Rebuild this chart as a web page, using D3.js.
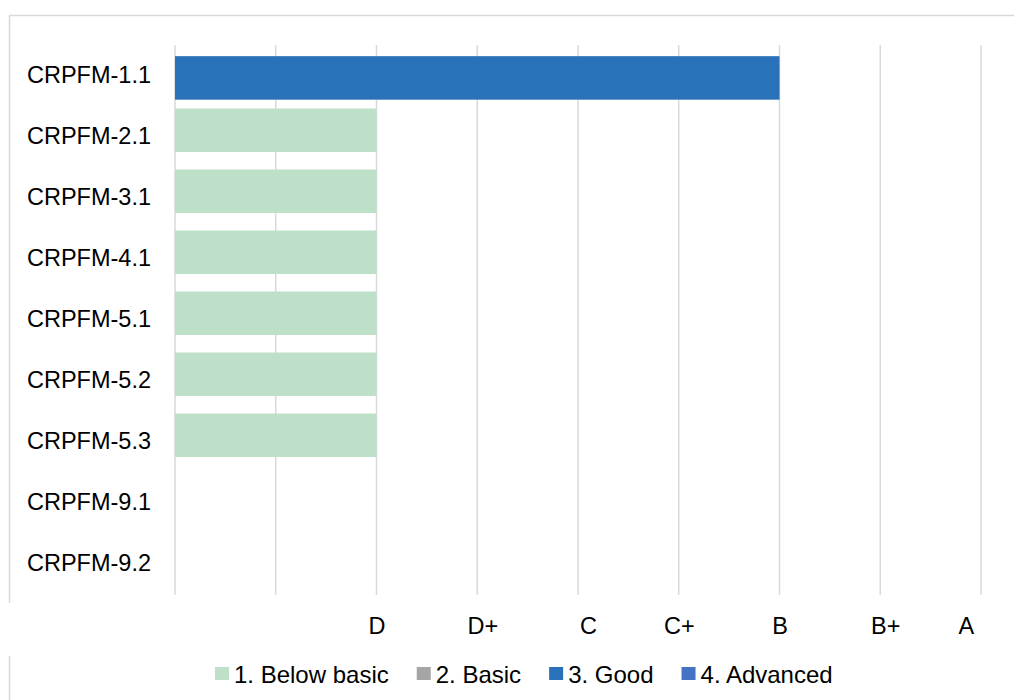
<!DOCTYPE html>
<html>
<head>
<meta charset="utf-8">
<script src="https://cdn.jsdelivr.net/npm/d3@7"></script>
<style>
  body { margin: 0; background: #fff; }
  svg text { font-family: "Liberation Sans", Arial, sans-serif; fill: #000; }
</style>
</head>
<body>
<svg id="chart" width="1014" height="700"></svg>
<script>
// data
var categories = ["CRPFM-1.1","CRPFM-2.1","CRPFM-3.1","CRPFM-4.1","CRPFM-5.1","CRPFM-5.2","CRPFM-5.3","CRPFM-9.1","CRPFM-9.2"];
var seriesNames = ["1. Below basic","2. Basic","3. Good","4. Advanced"];
var belowBasic = [0,2,2,2,2,2,2,0,0];
var basic      = [0,0,0,0,0,0,0,0,0];
var good       = [6,0,0,0,0,0,0,0,0];
var advanced   = [0,0,0,0,0,0,0,0,0];
var gradeLabels = ["D","D+","C","C+","B","B+","A"];
var gradeAt     = [2,3.05,4.1,5,6,7.05,7.85];

var colors = ["#bee0c9","#a5a5a5","#2971b8","#4472c4"];
var seriesValues = [belowBasic, basic, good, advanced];

var svg = d3.select("#chart");
var W = 1014, H = 700;

// outer frame
svg.append("rect")
    .attr("x", 9.5).attr("y", 15.5)
    .attr("width", W + 10).attr("height", H)
    .attr("fill", "#fff")
    .attr("stroke", "#d9d9d9")
    .attr("stroke-width", 1.5);

var x = d3.scaleLinear().domain([0, 8]).range([175, 981]);
var y = d3.scaleBand().domain(categories).range([45, 594]);
var off = d3.scalePoint().domain(seriesNames).range([2.5, 15.5]);
var barH = 43.5;

// gridlines
svg.append("g")
    .selectAll("line")
    .data(x.ticks(8))
    .enter().append("line")
      .attr("x1", function(d) { return x(d); })
      .attr("x2", function(d) { return x(d); })
      .attr("y1", 45)
      .attr("y2", 595)
      .attr("stroke", "#d9d9d9")
      .attr("stroke-width", 1.5);

// bars
seriesNames.forEach(function(s, si) {
  svg.append("g")
      .attr("fill", colors[si])
    .selectAll("rect")
    .data(categories.map(function(c, i) { return {cat: c, v: seriesValues[si][i]}; })
          .filter(function(d) { return d.v > 0; }))
    .enter().append("rect")
      .attr("x", x(0))
      .attr("y", function(d) { return y(d.cat) + off(s); })
      .attr("width", function(d) { return x(d.v) - x(0); })
      .attr("height", barH);
});

// category labels
svg.append("g")
    .selectAll("text")
    .data(categories)
    .enter().append("text")
      .attr("x", 151)
      .attr("y", function(d) { return y(d) + y.bandwidth() / 2 + 7.5; })
      .attr("text-anchor", "end")
      .attr("font-size", "23.5px")
      .text(function(d) { return d; });

// white box behind the grade labels (covers frame)
svg.append("rect")
    .attr("x", 5).attr("y", 603)
    .attr("width", W).attr("height", 53)
    .attr("fill", "#fff");

// grade labels along the bottom
var ax = svg.append("g")
    .attr("transform", "translate(0,617)")
    .call(d3.axisBottom(x)
      .tickValues(gradeAt)
      .tickFormat(function(d, i) { return gradeLabels[i]; })
      .tickSize(0)
      .tickPadding(0));
ax.select(".domain").remove();
ax.selectAll("text")
    .attr("font-size", "23.5px")
    .attr("font-family", null)
    .attr("dy", "0.71em")
    .attr("fill", "#000");

// legend
var legend = svg.append("g").attr("transform", "translate(215,674)");
var lx = 0;
seriesNames.forEach(function(s, i) {
  var item = legend.append("g").attr("transform", "translate(" + lx + ",0)");
  item.append("rect")
      .attr("x", 0).attr("y", -7)
      .attr("width", 14).attr("height", 13)
      .attr("fill", colors[i]);
  var t = item.append("text")
      .attr("x", 19)
      .attr("y", 8.5)
      .attr("font-size", "24px")
      .text(s);
  lx += 19 + t.node().getComputedTextLength() + 28;
});
</script>
</body>
</html>
